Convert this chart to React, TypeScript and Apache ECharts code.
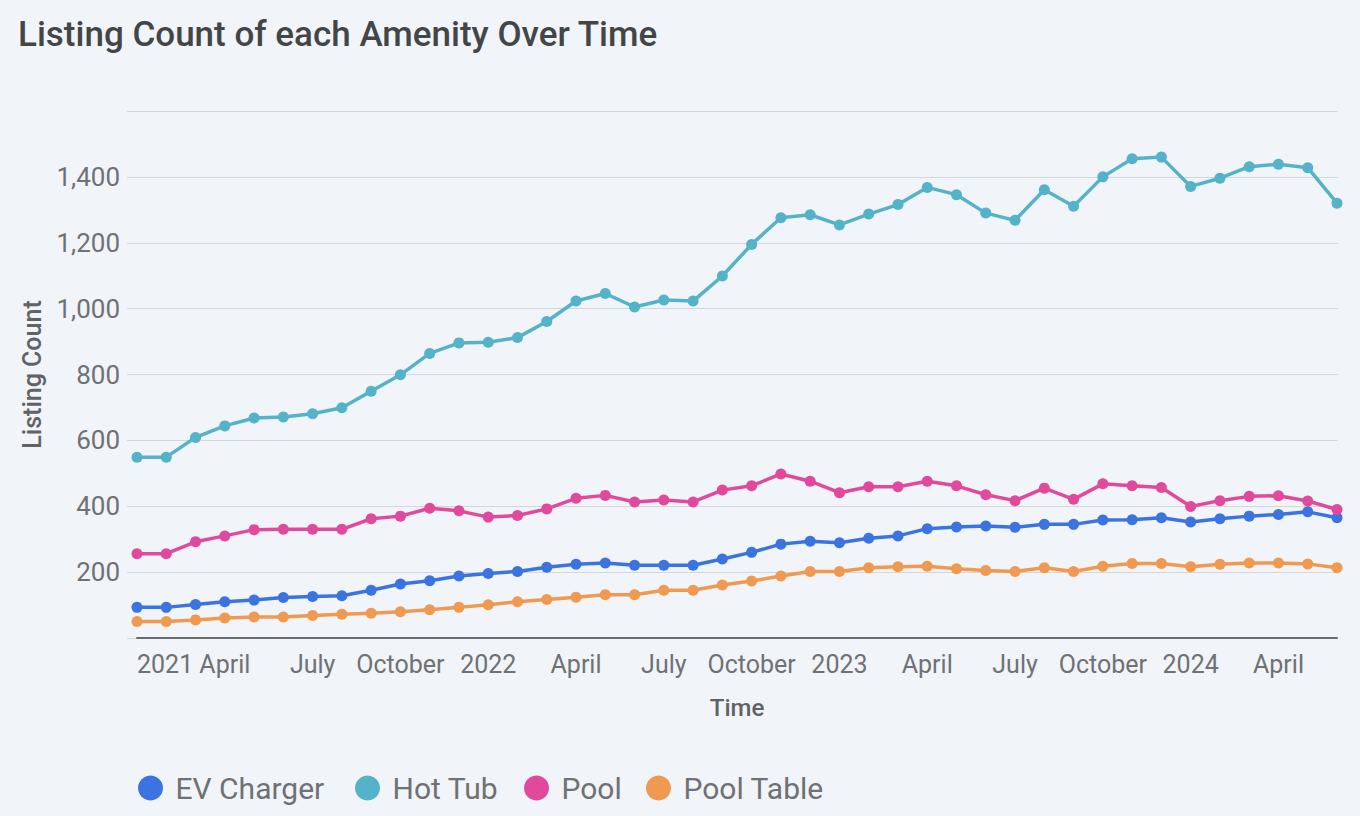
import React, { useEffect, useRef } from "react";
import * as echarts from "echarts";

const months: string[] = [
  "2021-01", "2021-02", "2021-03", "2021-04", "2021-05", "2021-06", "2021-07", "2021-08", "2021-09", "2021-10", "2021-11", "2021-12",
  "2022-01", "2022-02", "2022-03", "2022-04", "2022-05", "2022-06", "2022-07", "2022-08", "2022-09", "2022-10", "2022-11", "2022-12",
  "2023-01", "2023-02", "2023-03", "2023-04", "2023-05", "2023-06", "2023-07", "2023-08", "2023-09", "2023-10", "2023-11", "2023-12",
  "2024-01", "2024-02", "2024-03", "2024-04", "2024-05", "2024-06",
];

const evCharger: number[] = [93, 93, 102, 110, 115, 123, 126, 128, 145, 164, 174, 188, 196, 202, 215, 224, 228, 221, 221, 221, 240, 260, 285, 294, 289, 303, 310, 332, 337, 340, 336, 345, 345, 358, 359, 365, 352, 362, 370, 375, 383, 365];
const hotTub: number[] = [549, 549, 609, 644, 668, 671, 681, 699, 749, 799, 864, 896, 898, 912, 961, 1023, 1046, 1005, 1026, 1023, 1099, 1195, 1276, 1285, 1254, 1287, 1316, 1368, 1346, 1290, 1268, 1361, 1311, 1400, 1455, 1460, 1371, 1396, 1431, 1438, 1428, 1320];
const pool: number[] = [256, 256, 292, 310, 329, 330, 330, 330, 362, 370, 394, 386, 367, 372, 392, 424, 433, 413, 419, 413, 449, 462, 498, 476, 441, 459, 459, 476, 462, 435, 417, 455, 421, 468, 462, 457, 399, 417, 430, 432, 416, 390];
const poolTable: number[] = [50, 50, 55, 61, 64, 64, 68, 72, 75, 80, 86, 93, 101, 110, 117, 124, 131, 131, 145, 145, 161, 173, 188, 202, 202, 213, 216, 218, 210, 205, 202, 213, 202, 218, 226, 226, 216, 224, 228, 228, 225, 213];

const seriesNames: string[] = ["EV Charger", "Hot Tub", "Pool", "Pool Table"];
const seriesColors: string[] = ["#3b74e0", "#54b3c9", "#e14a9c", "#ef9a50"];
const monthTickNames: Record<string, string> = { "04": "April", "07": "July", "10": "October" };

const FONT = "Roboto";
const LABEL_COLOR = "#6f7174";
const LEGEND_LEFTS = [133, 350, 519, 641];

export default function App() {
  const ref = useRef<HTMLDivElement>(null);
  useEffect(() => {
    document.body.style.margin = "0";
    document.body.style.background = "#f1f4f9";
    if (!ref.current) return;
    const chart = echarts.init(ref.current, null, { renderer: "svg" });
    const datasets = [evCharger, hotTub, pool, poolTable];
    chart.setOption({
      animation: false,
      backgroundColor: "#f1f4f9",
      textStyle: { fontFamily: FONT },
      title: {
        text: "Listing Count of each Amenity Over Time",
        left: 13,
        top: 12,
        textStyle: { fontFamily: FONT, fontSize: 35, fontWeight: 500, color: "#434547" },
      },
      legend: seriesNames.map((name, i) => ({
        data: [name],
        left: LEGEND_LEFTS[i],
        top: 768,
        icon: "circle",
        itemWidth: 40,
        itemHeight: 25,
        textStyle: { fontFamily: FONT, fontSize: 30, color: LABEL_COLOR },
      })),
      grid: [
        { left: 127, right: 22, top: 111, bottom: 178 },
        { left: 137, right: 23, top: 111, bottom: 178 },
      ],
      xAxis: [
        { type: "category", gridIndex: 0, data: months, show: false, boundaryGap: false },
        {
          type: "category",
          gridIndex: 1,
          data: months,
          boundaryGap: false,
          name: "Time",
          nameLocation: "middle",
          nameGap: 58,
          nameTextStyle: { fontFamily: FONT, fontSize: 24, fontWeight: 500, color: "#5f6266" },
          axisLine: { show: true, lineStyle: { color: "#6b6b6b", width: 2 } },
          axisTick: { show: false },
          splitLine: { show: false },
          axisLabel: {
            interval: 2,
            margin: 14,
            fontFamily: FONT,
            fontSize: 25,
            color: LABEL_COLOR,
            showMinLabel: true,
            hideOverlap: false,
            alignMinLabel: "left",
            formatter: (v: string) => {
              const [y, m] = v.split("-");
              return m === "01" ? y : monthTickNames[m] || "";
            },
          },
        },
      ],
      yAxis: [
        {
          type: "value",
          gridIndex: 0,
          min: 0,
          max: 1600,
          interval: 200,
          name: "Listing Count",
          nameLocation: "middle",
          nameGap: 82,
          nameTextStyle: { fontFamily: FONT, fontSize: 25, fontWeight: 500, color: "#5f6266" },
          axisLine: { show: false },
          axisTick: { show: false },
          splitLine: { show: true, lineStyle: { color: "#d3d6da", width: 1 } },
          axisLabel: {
            showMinLabel: false,
            showMaxLabel: false,
            margin: 7,
            fontFamily: FONT,
            fontSize: 26,
            color: LABEL_COLOR,
            formatter: (v: number) => v.toLocaleString("en-US"),
          },
        },
        { type: "value", gridIndex: 1, min: 0, max: 1600, interval: 200, show: false, splitLine: { show: false } },
      ],
      series: seriesNames.map((name, i) => ({
        name,
        type: "line",
        xAxisIndex: 1,
        yAxisIndex: 1,
        data: datasets[i],
        color: seriesColors[i],
        symbol: "circle",
        symbolSize: 11,
        showAllSymbol: true,
        lineStyle: { width: 3.5, color: seriesColors[i] },
        itemStyle: { color: seriesColors[i] },
        clip: true,
      })),
    });
    return () => chart.dispose();
  }, []);
  return <div ref={ref} style={{ width: 1360, height: 816 }} />;
}
